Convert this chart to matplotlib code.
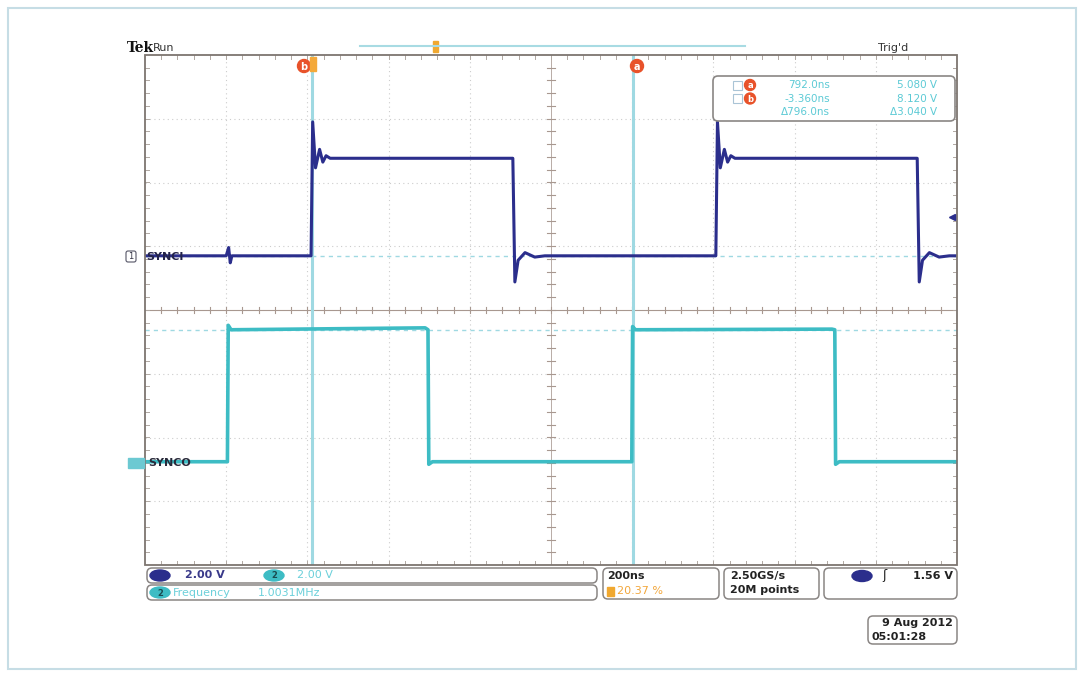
import numpy as np
import matplotlib
matplotlib.use("Agg")
import matplotlib.pyplot as plt
from matplotlib.patches import FancyBboxPatch, Rectangle, Ellipse, Circle

# --- waveform data (time in ns, level in divisions) ---
synci_t = [0, 200, 206, 210, 214, 409, 413, 420, 430, 438, 446, 456, 906, 911, 919,
           936, 960, 985, 1406, 1410, 1417, 1427, 1435, 1443, 1453, 1902, 1907,
           1915, 1932, 1956, 1981, 2000]
synci_v = [0.85, 0.85, 0.98, 0.74, 0.85, 0.85, 2.95, 2.23, 2.52, 2.32, 2.42, 2.38,
           2.38, 0.44, 0.78, 0.90, 0.83, 0.85, 0.85, 2.95, 2.23, 2.52, 2.32, 2.42,
           2.38, 2.38, 0.44, 0.78, 0.90, 0.83, 0.85, 0.85]

synco_t = [0, 203, 205, 212, 690, 697, 699, 708, 1199, 1201, 1208, 1692, 1699, 1701, 1710, 2000]
synco_v = [-2.38, -2.38, -0.24, -0.31, -0.28, -0.31, -2.42, -2.38, -2.38, -0.26,
           -0.31, -0.30, -0.31, -2.42, -2.38, -2.38]

cursor_t = [411, 1202]          # cursor b, cursor a
cursor_levels = [0.85, -0.31]   # horizontal cursor bars

readout_rows = [("a", "792.0ns", "5.080 V"),
                ("b", "-3.360ns", "8.120 V"),
                ("", "\u0394796.0ns", "\u03943.040 V")]

W, H = 1084, 677
fig = plt.figure(figsize=(W / 100, H / 100), dpi=100)
fig.patch.set_facecolor("white")

# screen area in pixels
x0, x1, y0, y1 = 145, 957, 55, 565
ax = fig.add_axes([x0 / W, 1 - y1 / H, (x1 - x0) / W, (y1 - y0) / H])
ax.set_xlim(0, 2000)
ax.set_ylim(-4, 4)
ax.axis("off")

frame_c = "#7d7570"
tick_c = "#b0a8a2"
grid_c = "#cccccc"
# dotted graticule
for i in range(1, 10):
    if i != 5:
        ax.axvline(i * 200, color=grid_c, lw=0.8, ls=(0, (1, 3)), zorder=1)
for j in range(-3, 4):
    if j != 0:
        ax.axhline(j, color=grid_c, lw=0.8, ls=(0, (1, 3)), zorder=1)
# centre lines with minor ticks
ax.axhline(0, color="#a89890", lw=0.8, zorder=1)
ax.axvline(1000, color="#b8aca6", lw=0.7, zorder=1)
for t in np.arange(40, 2000, 40):
    ax.plot([t, t], [-0.05, 0.05], color="#a89890", lw=0.8, zorder=1)
    ax.plot([t, t], [-4, -3.93], color=tick_c, lw=0.7, zorder=1)
    ax.plot([t, t], [4, 3.93], color=tick_c, lw=0.7, zorder=1)
for v in np.arange(-3.8, 4, 0.2):
    ax.plot([990, 1010], [v, v], color="#a89890", lw=0.8, zorder=1)
    ax.plot([0, 10], [v, v], color=tick_c, lw=0.7, zorder=1)
    ax.plot([1990, 2000], [v, v], color=tick_c, lw=0.7, zorder=1)
ax.add_patch(Rectangle((0, -4), 2000, 8, fill=False, ec=frame_c, lw=1.3, zorder=5, clip_on=False))

# cursors
for c in cursor_t:
    ax.axvline(c, color="#9fd9e2", lw=2.2, zorder=2)
for lv in cursor_levels:
    ax.axhline(lv, color="#9fd9e2", lw=1.0, ls=(0, (3, 3)), zorder=2)

# traces
ax.plot(synco_t, synco_v, color="#3dbcc4", lw=2.6, zorder=3, solid_joinstyle="round")
ax.plot(synci_t, synci_v, color="#2b2e8c", lw=2.2, zorder=4, solid_joinstyle="round")

# --- overlay in pixel coordinates for the scope UI ---
ov = fig.add_axes([0, 0, 1, 1])
ov.set_xlim(0, W)
ov.set_ylim(H, 0)
ov.axis("off")
ov.patch.set_alpha(0)

ov.add_patch(Rectangle((8, 8), 1068, 661, fill=False, ec="#c6dde5", lw=1.5))

ov.text(127, 48, "Tek", fontsize=10, fontweight="bold", family="DejaVu Serif", color="#111111", va="center")
ov.text(153, 48, "Run", fontsize=8, color="#333333", va="center")
ov.text(878, 48, "Trig'd", fontsize=8, color="#333333", va="center")

# record bar
ov.plot([360, 745], [46, 46], color="#a8dbe3", lw=1.5)
ov.add_patch(Rectangle((433, 41), 5, 11, color="#f0a830"))

orange = "#e8522a"
def cursor_badge(x, y, letter, r=6.5):
    ov.add_patch(Circle((x, y), r, color=orange, zorder=6))
    ov.text(x, y + 0.5, letter, fontsize=7, color="white", ha="center", va="center", fontweight="bold", zorder=7)

cursor_badge(304, 66, "b")
ov.add_patch(Rectangle((310, 57), 6, 14, color="#f4a93a", zorder=6))
cursor_badge(637, 66, "a")

# readout box
ov.add_patch(FancyBboxPatch((713, 76), 242, 45, boxstyle="round,pad=0,rounding_size=5",
                            fc="white", ec="#8a8684", lw=1.2, zorder=6))
cy = "#5ccad5"
for k, (lab, tv, vv) in enumerate(readout_rows):
    yy = 85 + k * 13.5
    if lab:
        ov.add_patch(Rectangle((733, yy - 4.5), 9, 9, fill=False, ec="#aac4d6", lw=0.8, zorder=7))
        ov.add_patch(Circle((750, yy), 5.5, color=orange, zorder=7))
        ov.text(750, yy + 0.5, lab, fontsize=6, color="white", ha="center", va="center", fontweight="bold", zorder=8)
    ov.text(830, yy, tv, fontsize=7.5, color=cy, ha="right", va="center", zorder=7)
    ov.text(937, yy, vv, fontsize=7.5, color=cy, ha="right", va="center", zorder=7)

# channel markers
ov.add_patch(FancyBboxPatch((126, 251), 10, 11, boxstyle="round,pad=0,rounding_size=2",
                            fc="white", ec="#555566", lw=0.8))
ov.text(131, 256.5, "1", fontsize=6, color="#333344", ha="center", va="center")
ov.text(146, 256.5, "SYNCI", fontsize=8, color="#24244a", va="center", fontweight="bold")
ov.add_patch(Rectangle((128, 458), 16, 10, color="#6cc9d2"))
ov.text(148, 463, "SYNCO", fontsize=8, color="#2a2a3a", va="center", fontweight="bold")

# trigger level arrow
ov.plot([952], [217], marker="<", color="#2b2e8c", ms=5)

# bottom status boxes
def box(x, y, w, h):
    ov.add_patch(FancyBboxPatch((x, y), w, h, boxstyle="round,pad=0,rounding_size=5",
                                fc="white", ec="#8a8684", lw=1.1))

def oval(x, y, color, label, tc="white"):
    ov.add_patch(Ellipse((x, y), 20, 11, color=color))
    ov.text(x, y + 0.5, label, fontsize=6, color=tc, ha="center", va="center", fontweight="bold")

box(147, 568, 450, 15)
box(147, 585, 450, 15)
oval(160, 575.5, "#2b2e8c", "1", tc="#2b2e8c")
ov.text(185, 575.5, "2.00 V", fontsize=8, color="#3a3a8a", va="center", fontweight="bold")
oval(274, 575.5, "#3dbcc4", "2", tc="#1a4a50")
ov.text(297, 575.5, "2.00 V", fontsize=8, color="#6cd0da", va="center")
oval(160, 592.5, "#3dbcc4", "2", tc="#1a4a50")
ov.text(173, 592.5, "Frequency", fontsize=8, color="#6cd0da", va="center")
ov.text(258, 592.5, "1.0031MHz", fontsize=8, color="#6cd0da", va="center")

box(603, 568, 116, 31)
ov.text(607, 576, "200ns", fontsize=8, color="#222222", va="center", fontweight="bold")
ov.add_patch(Rectangle((607, 587), 7, 9, color="#f0a830"))
ov.text(617, 591.5, "20.37 %", fontsize=8, color="#f2a63a", va="center")

box(724, 568, 95, 31)
ov.text(730, 576, "2.50GS/s", fontsize=8, color="#222222", va="center", fontweight="bold")
ov.text(730, 590, "20M points", fontsize=8, color="#222222", va="center", fontweight="bold")

box(824, 568, 133, 31)
oval(862, 576, "#2b2e8c", "1", tc="#2b2e8c")
ov.text(884, 576, "\u0283", fontsize=9, color="#222222", va="center", ha="center")
ov.text(953, 576, "1.56 V", fontsize=8, color="#222222", va="center", ha="right", fontweight="bold")

box(868, 616, 89, 28)
ov.text(953, 623.5, "9 Aug 2012", fontsize=8, color="#222222", va="center", ha="right", fontweight="bold")
ov.text(872, 636.5, "05:01:28", fontsize=8, color="#222222", va="center", ha="left", fontweight="bold")

fig.savefig("out.png", dpi=100)
